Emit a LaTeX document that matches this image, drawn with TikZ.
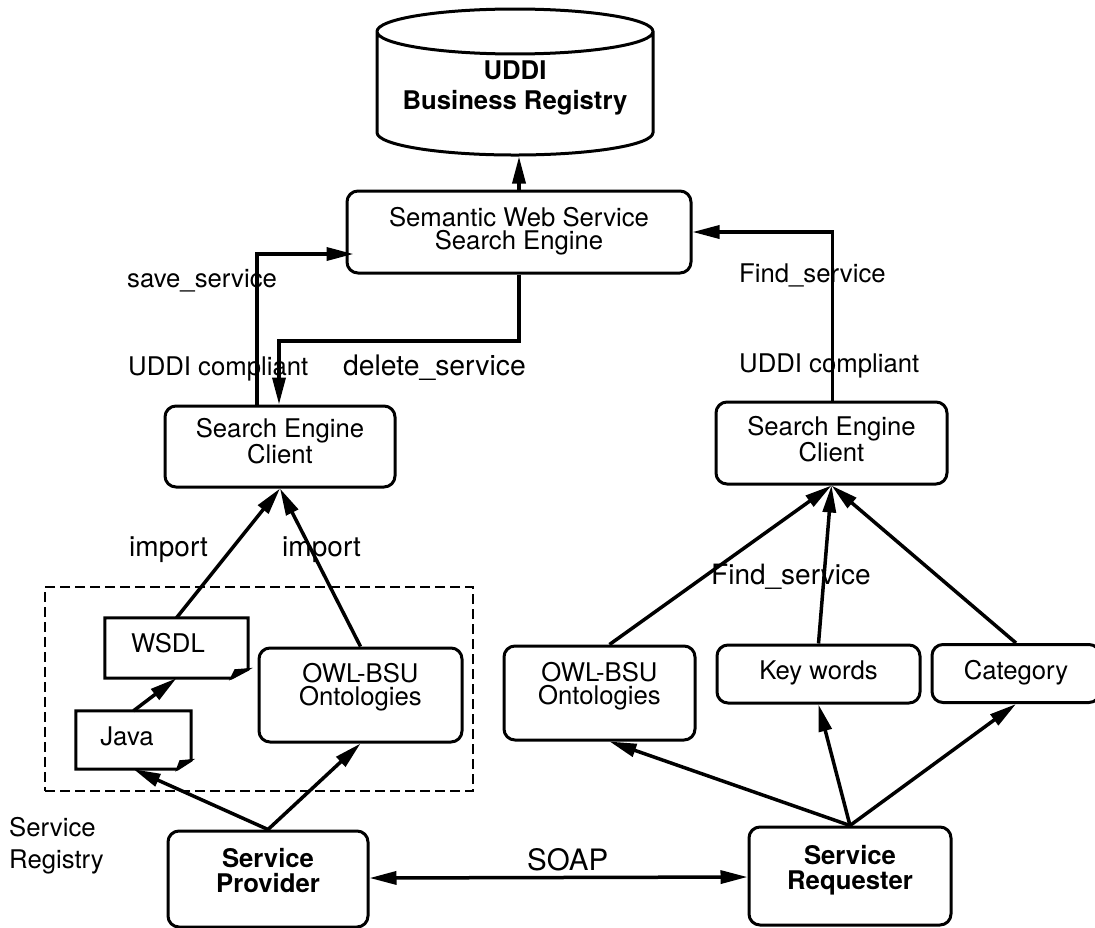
\documentclass[tikz,border=0pt]{standalone}
\usepackage{fontspec}
\setmainfont{TeX Gyre Heros}
\usetikzlibrary{arrows.meta,shapes.geometric}
\begin{document}
\begin{tikzpicture}[x=1pt,y=-1pt,>={Triangle[length=27pt,width=13pt]},font=\fontsize{25.7}{23}\selectfont]
        \tikzstyle{box}=[draw,line width=3pt,rounded corners=11pt,align=center,inner sep=0pt,fill=white]
        \tikzstyle{doc}=[inner sep=0pt,align=center]
        \tikzstyle{edge}=[draw,line width=3.5pt,->]
        \tikzstyle{dedge}=[draw,line width=3.5pt,<->]
        \tikzstyle{tag}=[anchor=west,inner sep=0pt]
        \tikzstyle{bold}=[font=\fontsize{25.7}{25}\selectfont\bfseries]
        \useasboundingbox (0,0) rectangle (1095,927);

        \node [draw,line width=3pt,shape=cylinder,shape border rotate=90,aspect=0.2,minimum width=276pt,minimum height=146pt,inner sep=0pt,align=center,font=\fontsize{25.7}{30}\selectfont\bfseries] (registry) at (515,94) {UDDI\\Business Registry\\[-12pt]~};

        \node [box,minimum width=344pt,minimum height=82pt] (search) at (519,232) {Semantic Web Service\\Search Engine\\[-16pt]~};
        \node [box,minimum width=230pt,minimum height=81pt] (client1) at (280,446.5) {Search Engine\\Client\\[-12pt]~};
        \node [box,minimum width=231pt,minimum height=82pt] (client2) at (831.5,443) {Search Engine\\Client\\[-14pt]~};

        \node [box,minimum width=203pt,minimum height=94pt] (owl1) at (360.5,695) {OWL-BSU\\Ontologies\\[-2pt]~};
        \node [box,minimum width=191pt,minimum height=94pt] (owl2) at (599.5,693) {OWL-BSU\\Ontologies\\[-4pt]~};
        \node [box,minimum width=203pt,minimum height=58pt] (keywords) at (818.5,674) {Key words\\[-15pt]~};
        \node [box,minimum width=168pt,minimum height=58pt] (category) at (1016,673.5) {Category\\[-15pt]~};

        \node [box,bold,minimum width=200pt,minimum height=96pt] (provider) at (268,879) {Service\\Provider\\[-8pt]~};
        \node [box,bold,minimum width=202pt,minimum height=98pt] (requester) at (850,876) {Service\\Requester\\[-8pt]~};

        % documents
        \node [doc,minimum width=143pt,minimum height=60pt] (wsdl) at (176.5,648) {};
        \draw [line width=3pt] (wsdl.north west) -- (wsdl.north east) -- ([yshift=9pt]wsdl.south east) -- ([xshift=-17pt]wsdl.south east) -- (wsdl.south west) -- cycle;
        \draw [line width=2pt,fill=black] ([yshift=9pt]wsdl.south east) -- ([xshift=-17pt]wsdl.south east) -- ([xshift=-13pt,yshift=8pt]wsdl.south east) -- cycle;
        \node [inner sep=0pt] (wsdltext) at (168,643) {WSDL};

        \node [doc,minimum width=115pt,minimum height=58pt] (java) at (133.5,740) {};
        \draw [line width=3pt] (java.north west) -- (java.north east) -- ([yshift=9pt]java.south east) -- ([xshift=-14pt]java.south east) -- (java.south west) -- cycle;
        \draw [line width=2pt,fill=black] ([yshift=9pt]java.south east) -- ([xshift=-14pt]java.south east) -- ([xshift=-11pt,yshift=8pt]java.south east) -- cycle;
        \node [inner sep=0pt] (javatext) at (127,736) {Java};

        \node [draw,line width=2.5pt,dash pattern=on 10pt off 5pt,minimum width=428pt,minimum height=204pt,inner sep=0pt] (registrybox) at (259,689) {};

        \coordinate (turn) at (279,341);

        \path[edge] (search.north) -- (search.north |- registry.south);
        \path[edge] ([xshift=-23pt]client1.north) |- ([yshift=-22pt,xshift=8pt]search.west);
        \path[edge] (search.south) |- (turn) -- (turn |- client1.north);
        \path[edge] ([xshift=1pt]client2.north) |- (search.east);

        \path[edge] (wsdl.north) -- (client1.south);
        \path[edge] (owl1.north) -- (client1.south);
        \path[edge] (java.north) -- (wsdl.south);
        \path[edge] (provider.north) -- (java.south);
        \path[edge] (provider.north) -- (owl1.south);

        \path[edge] ([xshift=10pt]owl2.north) -- (client2.south);
        \path[edge] (keywords.north) -- (client2.south);
        \path[edge] (category.north) -- (client2.south);
        \path[edge] (requester.north) -- ([xshift=10pt]owl2.south);
        \path[edge] (requester.north) -- (keywords.south);
        \path[edge] (requester.north) -- (category.south);
        \path[dedge] ([yshift=1pt]provider.east) -- ([yshift=-1pt]requester.west);

        \node [tag] (save) at (127,281) {save\_service};
        \node [tag] (compliant1) at (128,369) {UDDI compliant};
        \node [tag,font=\fontsize{28.3}{28}\selectfont] (delete) at (343,368) {delete\_service};
        \node [tag] (find1) at (739,275) {Find\_service};
        \node [tag] (compliant2) at (739,366) {UDDI compliant};
        \node [tag,font=\fontsize{28}{28}\selectfont] (import1) at (129,550) {import};
        \node [tag,font=\fontsize{28}{28}\selectfont] (import2) at (282,550) {import};
        \node [tag,font=\fontsize{28}{28}\selectfont] (find2) at (711,577) {Find\_service};
        \node [tag,font=\fontsize{29.5}{29}\selectfont] (soap) at (527,860) {SOAP};
        \node [tag,align=left,font=\fontsize{25.7}{32}\selectfont] (registrytext) at (9,846) {Service\\Registry};
\end{tikzpicture}
\end{document}
